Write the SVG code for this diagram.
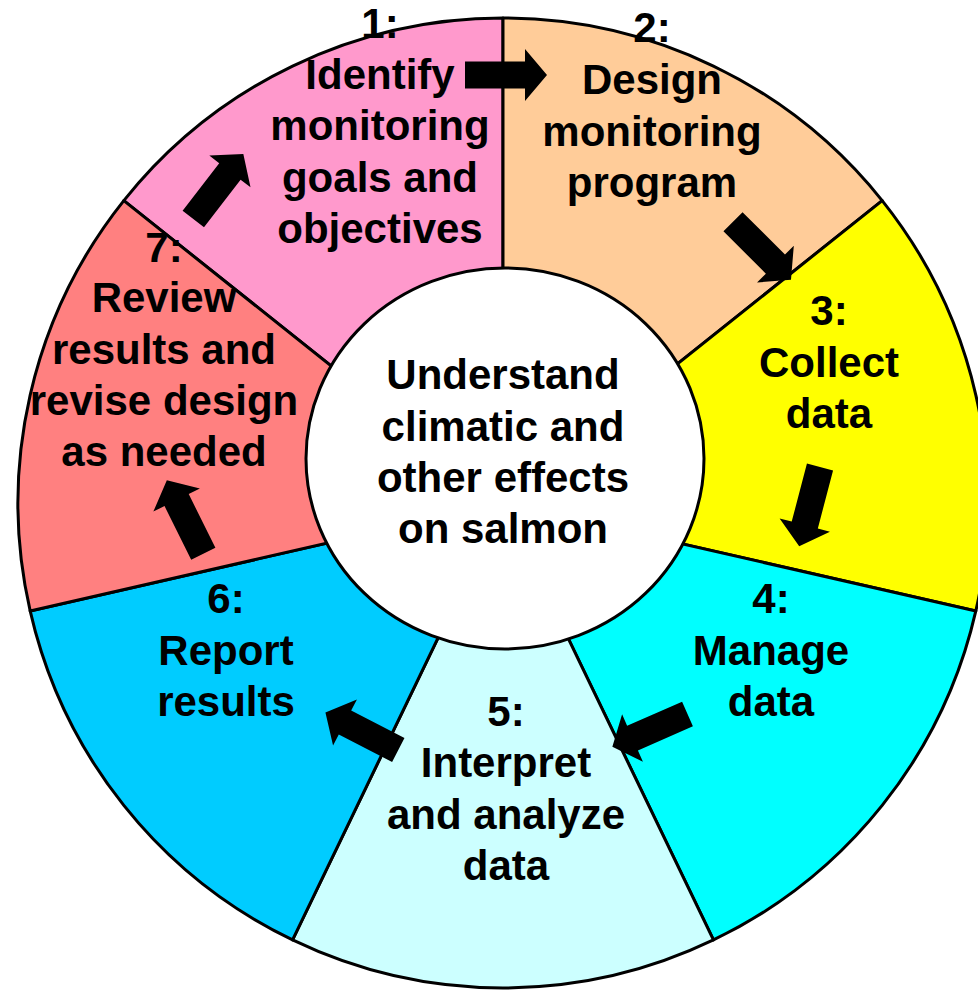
<svg xmlns="http://www.w3.org/2000/svg" xmlns:xlink="http://www.w3.org/1999/xlink" width="978" height="991" viewBox="0 0 978 991">
<style>
.seg{stroke:#000;stroke-width:3;stroke-linejoin:round}
.t{font-family:"Liberation Sans",Arial,sans-serif;font-weight:bold;font-size:42px;fill:#000;text-anchor:middle}
.arr{fill:#000}
</style>
<defs>
<path id="arrow" d="M0,-13.5 H60 V-26 L82,0 L60,26 V13.5 H0 Z"/>
</defs>
<rect width="978" height="991" fill="#fff"/>
<g id="step1">
<path class="seg" fill="#FF99CC" d="M503,503 L123.81,200.61 A485,485 0 0 1 503,18 Z"/>
<text class="t" x="380"><tspan x="380" y="37.5">1:</tspan><tspan x="380" y="88.5">Identify</tspan><tspan x="380" y="140">monitoring</tspan><tspan x="380" y="191.5">goals and</tspan><tspan x="380" y="243">objectives</tspan></text>
</g>
<g id="step2">
<path class="seg" fill="#FFCC99" d="M503,503 L503,18 A485,485 0 0 1 882.19,200.61 Z"/>
<text class="t" x="652"><tspan x="652" y="42">2:</tspan><tspan x="652" y="94">Design</tspan><tspan x="652" y="145.5">monitoring</tspan><tspan x="652" y="197">program</tspan></text>
</g>
<g id="step3">
<path class="seg" fill="#FFFF00" d="M503,503 L882.19,200.61 A485,485 0 0 1 975.84,610.92 Z"/>
<text class="t" x="829"><tspan x="829" y="325">3:</tspan><tspan x="829" y="376.7">Collect</tspan><tspan x="829" y="428">data</tspan></text>
</g>
<g id="step4">
<path class="seg" fill="#00FFFF" d="M503,503 L975.84,610.92 A485,485 0 0 1 713.43,939.97 Z"/>
<text class="t" x="771"><tspan x="771" y="613">4:</tspan><tspan x="771" y="665">Manage</tspan><tspan x="771" y="716">data</tspan></text>
</g>
<g id="step5">
<path class="seg" fill="#CCFFFF" d="M503,503 L713.43,939.97 A485,485 0 0 1 292.57,939.97 Z"/>
<text class="t" x="506"><tspan x="506" y="725.5">5:</tspan><tspan x="506" y="777">Interpret</tspan><tspan x="506" y="828.5">and analyze</tspan><tspan x="506" y="880">data</tspan></text>
</g>
<g id="step6">
<path class="seg" fill="#00CCFF" d="M503,503 L292.57,939.97 A485,485 0 0 1 30.16,610.92 Z"/>
<text class="t" x="226"><tspan x="226" y="613">6:</tspan><tspan x="226" y="665">Report</tspan><tspan x="226" y="716">results</tspan></text>
</g>
<g id="step7">
<path class="seg" fill="#FF8080" d="M503,503 L30.16,610.92 A485,485 0 0 1 123.81,200.61 Z"/>
<text class="t" x="164"><tspan x="164" y="261.7">7:</tspan><tspan x="164" y="312.3">Review</tspan><tspan x="164" y="364">results and</tspan><tspan x="164" y="415">revise design</tspan><tspan x="164" y="466">as needed</tspan></text>
</g>
<g id="center">
<ellipse cx="505" cy="458.5" rx="199" ry="190.5" fill="#fff" stroke="#000" stroke-width="3"/>
<text class="t" x="503"><tspan x="503" y="389.3">Understand</tspan><tspan x="503" y="440.7">climatic and</tspan><tspan x="503" y="491.7">other effects</tspan><tspan x="503" y="543.3">on salmon</tspan></text>
</g>
<g id="connectors" class="arr">
<use xlink:href="#arrow" href="#arrow" transform="translate(465,75)"/>
<use xlink:href="#arrow" href="#arrow" transform="translate(733,221.7) rotate(45)"/>
<use xlink:href="#arrow" href="#arrow" transform="translate(820,467) rotate(104.7)"/>
<use xlink:href="#arrow" href="#arrow" transform="translate(687.5,714) rotate(156.4)"/>
<use xlink:href="#arrow" href="#arrow" transform="translate(398.3,750) rotate(207.3)"/>
<use xlink:href="#arrow" href="#arrow" transform="translate(203.3,553.8) rotate(243.6)"/>
<use xlink:href="#arrow" href="#arrow" transform="translate(193.3,219) rotate(-52.4)"/>
</g>
</svg>
